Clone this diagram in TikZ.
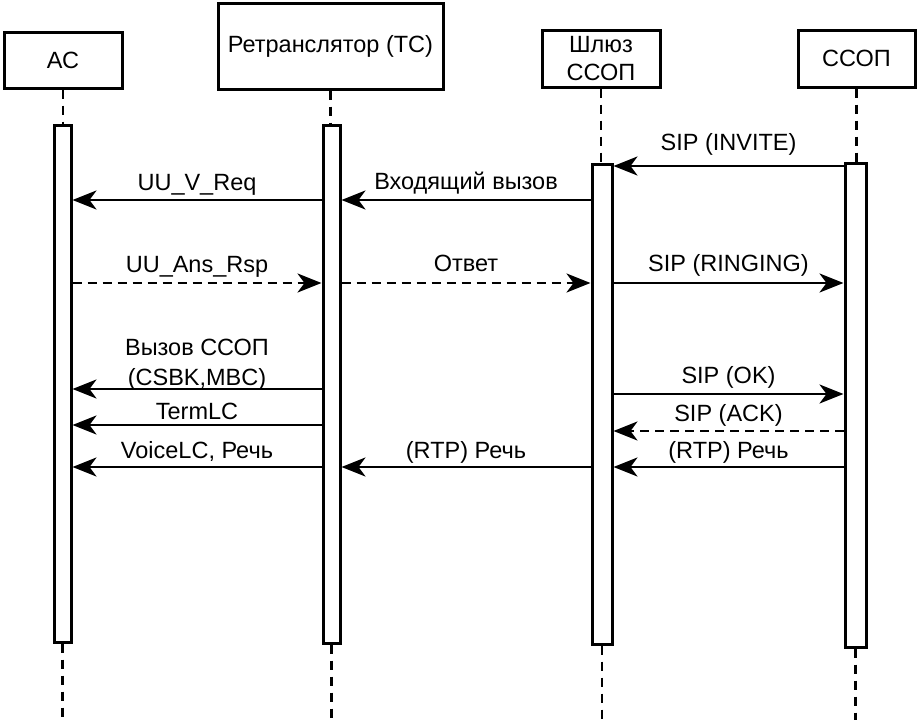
\documentclass[tikz,border=0pt]{standalone}
\usepackage{fontspec}
\setmainfont{Liberation Sans}
\usetikzlibrary{arrows.meta}
\begin{document}
\begin{tikzpicture}[x=1pt,y=-1pt,
  box/.style={draw, line width=3pt, inner sep=0pt, align=center, font=\fontsize{23.5}{28}\selectfont},
  actbar/.style={draw, line width=3pt, fill=white, inner sep=0pt},
  life/.style={line width=2.5pt, dash pattern=on 9pt off 7pt},
  msg/.style={line width=2.6pt, -{Stealth[length=24pt,width=19pt,inset=7pt]}},
  dmsg/.style={msg, dash pattern=on 9pt off 6pt},
  lbl/.style={midway, anchor=base, inner sep=0pt, font=\fontsize{23.5}{28}\selectfont}
]
\useasboundingbox (0,0) rectangle (921,720);
% header boxes
\node[box, minimum width=118pt, minimum height=56pt] (AC) at (63,60) {АС};
\node[box, minimum width=225pt, minimum height=86pt] (TR) at (330.5,46) {Ретранслятор (ТС)};
\node[box, minimum width=118pt, minimum height=57pt] (GW) at (601,58.5) {Шлюз\\ССОП};
\node[box, minimum width=117pt, minimum height=57pt] (PS) at (856.5,58.5) {ССОП};
% activation bars
\node[actbar, minimum width=17pt, minimum height=517pt] (bAC) at (62.5,383.5) {};
\node[actbar, minimum width=17pt, minimum height=518pt] (bTR) at (331.5,384) {};
\node[actbar, minimum width=20pt, minimum height=480pt] (bGW) at (602,404) {};
\node[actbar, minimum width=21pt, minimum height=484pt] (bPS) at (855.5,405) {};
% bottom ends of lifelines
\coordinate (eAC) at (62.5,720);
\coordinate (eTR) at (331.5,720);
\coordinate (eGW) at (602,720);
\coordinate (ePS) at (855.5,720);
% lifelines
\draw[life] (AC.south) -- (AC.south |- bAC.north);
\draw[life] (TR.south) -- (TR.south |- bTR.north);
\draw[life] (GW.south) -- (GW.south |- bGW.north);
\draw[life] (PS.south) -- (PS.south |- bPS.north);
\draw[life] (bAC.south) -- (eAC);
\draw[life] (bTR.south) -- (eTR);
\draw[life] (bGW.south) -- (eGW);
\draw[life] (bPS.south) -- (ePS);
% message rows
\coordinate (r1) at (0,166);
\coordinate (r2) at (0,200);
\coordinate (r3) at (0,283);
\coordinate (r4) at (0,389);
\coordinate (r5) at (0,394);
\coordinate (r6) at (0,425);
\coordinate (r7) at (0,431);
\coordinate (r8) at (0,467);
% messages
\draw[msg] (bPS.west |- r1) -- node[lbl, yshift=16pt] {SIP (INVITE)} (bGW.east |- r1);
\draw[msg] (bTR.west |- r2) -- node[lbl, yshift=10pt] {UU\_V\_Req} (bAC.east |- r2);
\draw[msg] (bGW.west |- r2) -- node[lbl, yshift=11pt] {Входящий вызов} (bTR.east |- r2);
\draw[dmsg] (bAC.east |- r3) -- node[lbl, yshift=11pt] {UU\_Ans\_Rsp} (bTR.west |- r3);
\draw[dmsg] (bTR.east |- r3) -- node[lbl, yshift=12pt] {Ответ} (bGW.west |- r3);
\draw[msg] (bGW.east |- r3) -- node[lbl, yshift=12pt] {SIP (RINGING)} (bPS.west |- r3);
\draw[msg] (bTR.west |- r4) -- node[lbl, yshift=4pt] {(CSBK,MBC)} node[lbl, yshift=34pt] {Вызов ССОП} (bAC.east |- r4);
\draw[msg] (bGW.east |- r5) -- node[lbl, yshift=11pt] {SIP (OK)} (bPS.west |- r5);
\draw[msg] (bTR.west |- r6) -- node[lbl, yshift=6pt] {TermLC} (bAC.east |- r6);
\draw[dmsg] (bPS.west |- r7) -- node[lbl, yshift=10pt] {SIP (ACK)} (bGW.east |- r7);
\draw[msg] (bTR.west |- r8) -- node[lbl, yshift=9pt] {VoiceLC, Речь} (bAC.east |- r8);
\draw[msg] (bGW.west |- r8) -- node[lbl, yshift=9pt] {(RTP) Речь} (bTR.east |- r8);
\draw[msg] (bPS.west |- r8) -- node[lbl, yshift=9pt] {(RTP) Речь} (bGW.east |- r8);
\end{tikzpicture}
\end{document}
